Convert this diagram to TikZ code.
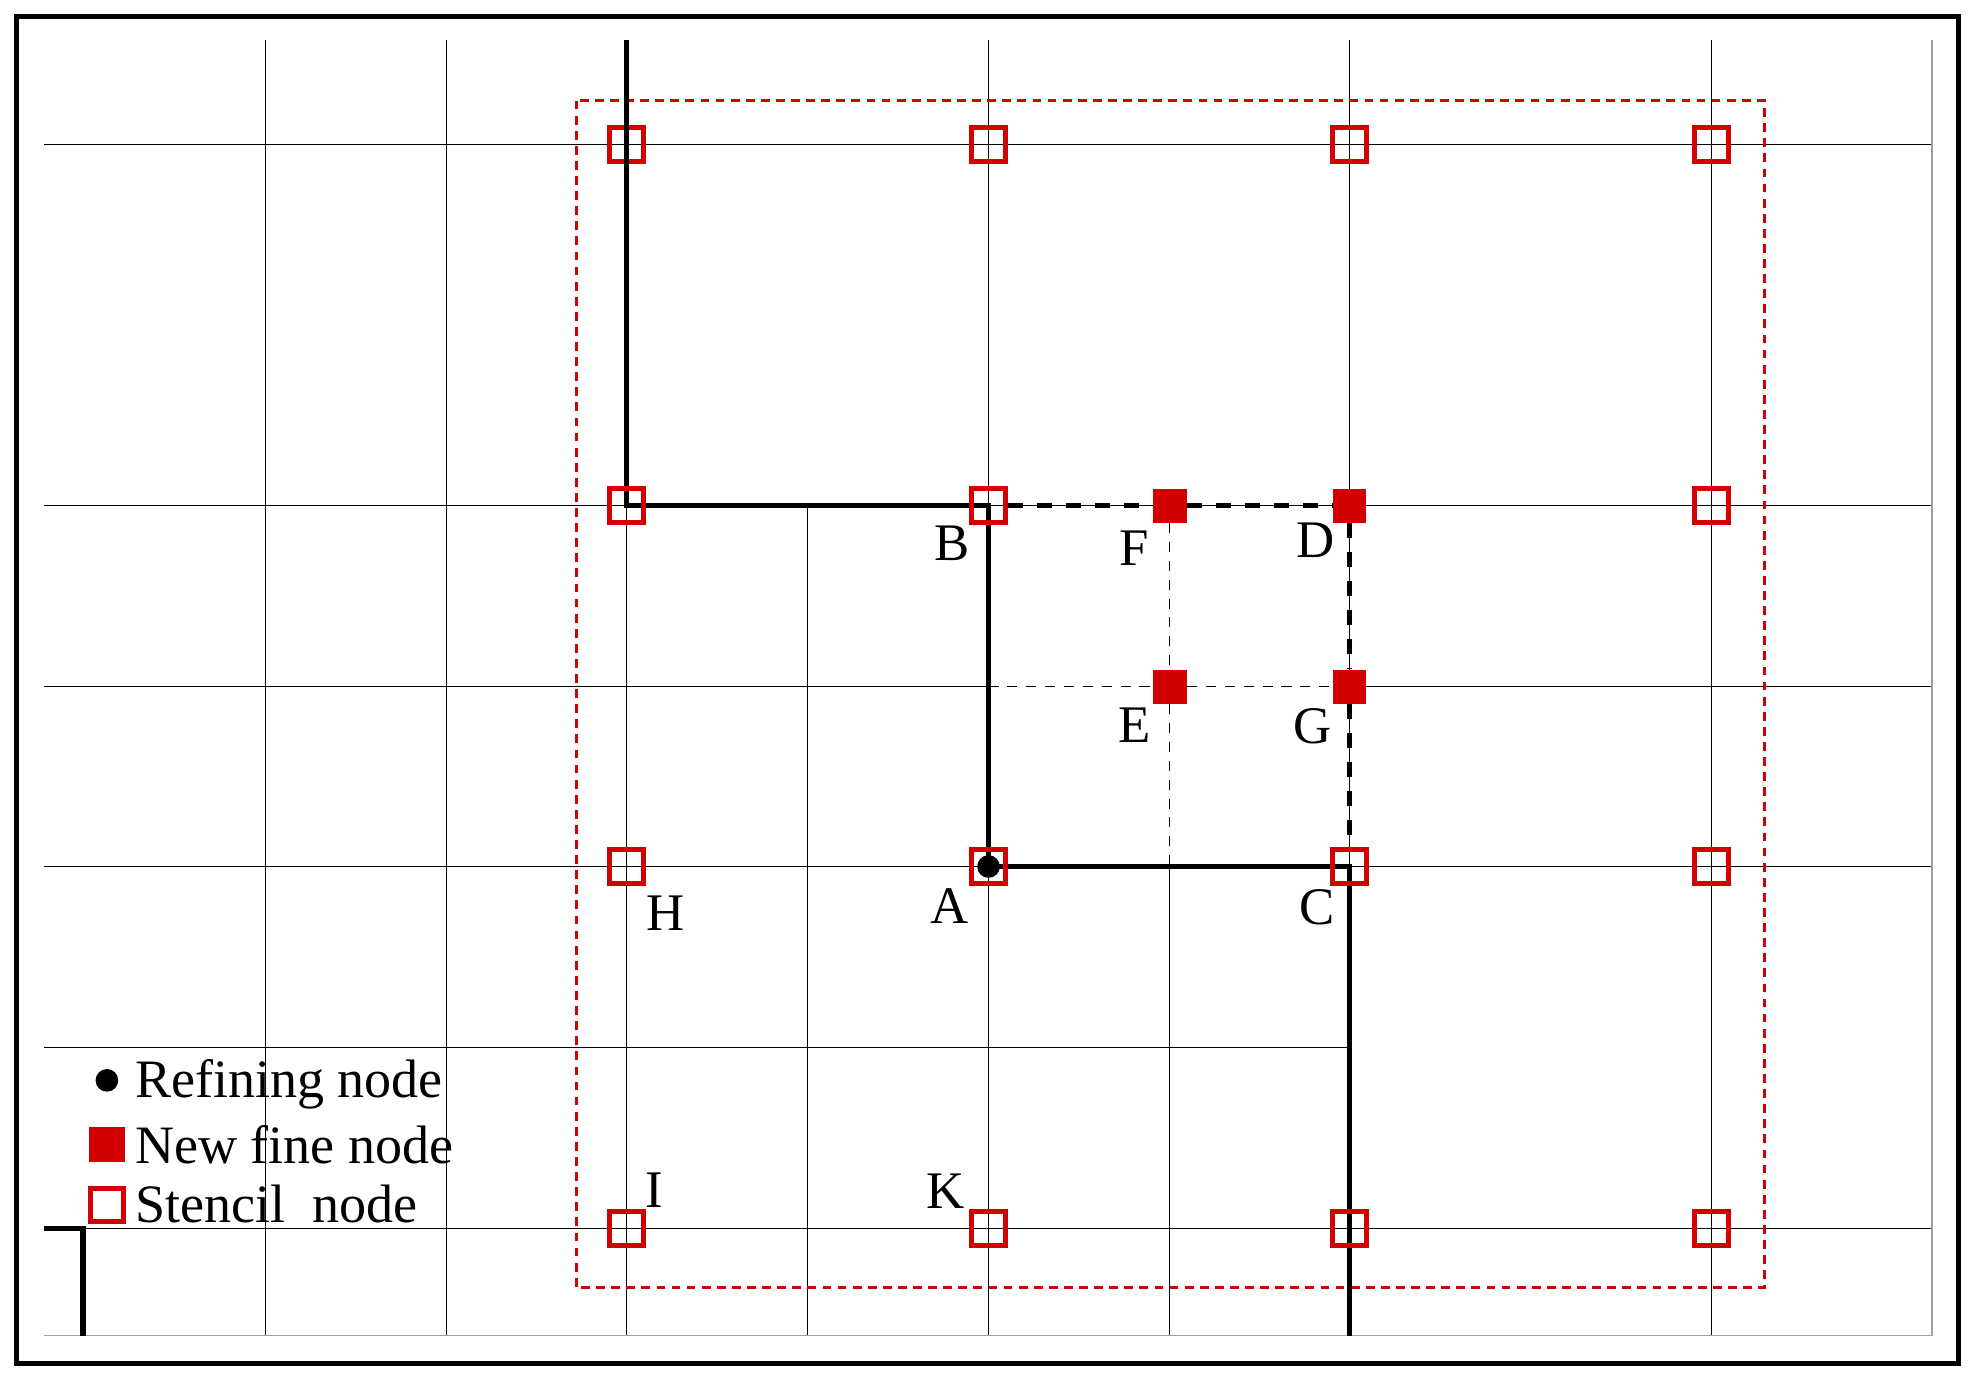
\documentclass[tikz,border=0pt]{standalone}
\usepackage{fontspec}
\setmainfont{Liberation Serif}
\definecolor{nred}{RGB}{210,0,0}
\definecolor{bgray}{RGB}{160,160,160}
\begin{document}
\begin{tikzpicture}[x=0.5pt,y=-0.5pt,
  gridline/.style={line width=0.45pt,black},
  boldline/.style={line width=2pt,black},
  bolddash/.style={line width=2pt,black,dash pattern=on 6pt off 5.5pt},
  finedash/.style={line width=0.45pt,black,dash pattern=on 4pt off 3.5pt},
  stencil/.style={draw=nred,line width=1.9pt,minimum size=13.5pt,inner sep=0pt,rectangle},
  newfine/.style={fill=nred,minimum size=13.5pt,inner sep=0pt,rectangle},
  refdot/.style={fill=black,circle,minimum size=9pt,inner sep=0pt},
  lab/.style={font=\fontsize{21}{24}\selectfont,inner sep=0pt,anchor=base},
  legtext/.style={font=\fontsize{21.5}{24}\selectfont,inner sep=0pt,anchor=base west}]
\useasboundingbox (0,0) rectangle (1568,1093);
% outer frame
\draw[line width=1.9pt] (13,13) rectangle (1557,1084);
% grid lines
\draw[gridline] (35,115) -- (1536,115);
\draw[gridline] (35,402) -- (1536,402);
\draw[gridline] (35,546) -- (786,546);
\draw[gridline] (1073,546) -- (1536,546);
\draw[gridline] (35,689) -- (1536,689);
\draw[gridline] (35,833) -- (1073,833);
\draw[gridline] (35,977) -- (1536,977);
\draw[gridline] (211,32) -- (211,1062);
\draw[gridline] (355,32) -- (355,1062);
\draw[gridline] (498,32) -- (498,1062);
\draw[gridline] (642,402) -- (642,1062);
\draw[gridline] (786,32) -- (786,1062);
\draw[gridline] (930,689) -- (930,1062);
\draw[gridline] (1073,32) -- (1073,1062);
\draw[gridline] (1361,32) -- (1361,1062);
\draw[line width=0.6pt,bgray] (35,1062) -- (1536,1062) -- (1536,32);
% bottom-left corner
\draw[boldline] (35,977) -- (66,977) -- (66,1062);
% red dashed stencil box
\draw[nred,line width=1.2pt,dash pattern=on 3.5pt off 2.5pt] (458,80) rectangle (1403,1024);
% coordinates
\coordinate (topend) at (498,32);
\coordinate (botend) at (1073,1062);
\coordinate (midB) at (786,546);
\coordinate (midA) at (930,689);
% stencil nodes
\node[stencil] (s1) at (498,115) {};
\node[stencil] (s2) at (786,115) {};
\node[stencil] (s3) at (1073,115) {};
\node[stencil] (s4) at (1361,115) {};
\node[stencil] (s5) at (498,402) {};
\node[stencil] (B) at (786,402) {};
\node[stencil] (s6) at (1361,402) {};
\node[stencil] (H) at (498,689) {};
\node[stencil] (A) at (786,689) {};
\node[stencil] (C) at (1073,689) {};
\node[stencil] (s7) at (1361,689) {};
\node[stencil] (I) at (498,977) {};
\node[stencil] (K) at (786,977) {};
\node[stencil] (s8) at (1073,977) {};
\node[stencil] (s9) at (1361,977) {};
% new fine nodes
\node[newfine] (F) at (930,402) {};
\node[newfine] (D) at (1073,402) {};
\node[newfine] (E) at (930,546) {};
\node[newfine] (G) at (1073,546) {};
% connectors
\draw[finedash] (F.south) -- (E.north);
\draw[finedash] (E.south) -- (midA);
\draw[finedash] (midB) -- (E.west);
\draw[finedash] (E.east) -- (G.west);
\draw[boldline] (topend) -- (s5.center) -- (B.center) -- (A.center) -- (C.center) -- (botend);
\draw[bolddash] (B.east) -- (F.west);
\draw[bolddash] (F.east) -- (D.west);
\draw[bolddash] (D.south) -- (G.north);
\draw[bolddash] (G.south) -- (C.north);
% redraw squares on top of the lines
\foreach \n in {s5,B,A,C,s8} {\node[stencil] at (\n) {};}
\node[refdot] (Adot) at (A) {};
% labels
\node[lab] (lB) at (757,446) {B};
\node[lab] (lF) at (902,450) {F};
\node[lab] (lD) at (1046,443) {D};
\node[lab] (lE) at (902,590) {E};
\node[lab] (lG) at (1044,591) {G};
\node[lab] (lH) at (529,740) {H};
\node[lab] (lA) at (755,734) {A};
\node[lab] (lC) at (1047,735) {C};
\node[lab] (lI) at (520,960) {I};
\node[lab] (lK) at (752,961) {K};
% legend
\node[refdot] (legdot) at (85,859) {};
\node[legtext] (legt1) at (107,873) {Refining node};
\node[newfine,minimum size=14pt] (legfill) at (85,910) {};
\node[legtext] (legt2) at (107,925) {New fine node};
\node[stencil,minimum size=13pt] (legsq) at (85,958) {};
\node[legtext] (legt3) at (107,972) {Stencil\ \ node};
\end{tikzpicture}
\end{document}
